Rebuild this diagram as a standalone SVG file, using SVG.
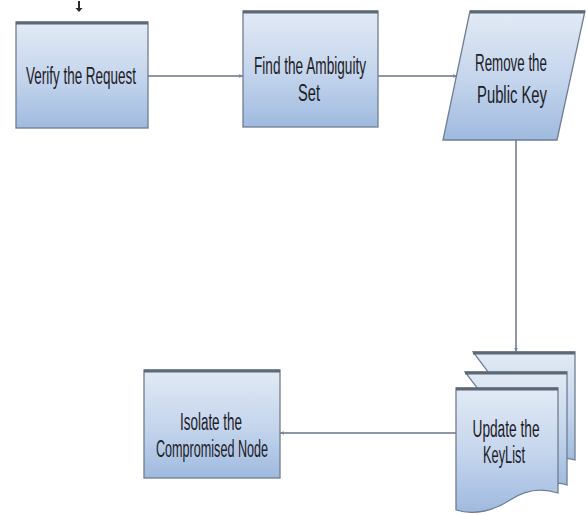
<svg xmlns="http://www.w3.org/2000/svg" width="586" height="515" viewBox="0 0 586 515">
  <defs>
    <linearGradient id="fillBlue" x1="0" y1="0" x2="0" y2="1">
      <stop offset="0" stop-color="#e2eaf5"/>
      <stop offset="0.55" stop-color="#c3d4ec"/>
      <stop offset="1" stop-color="#9fbadf"/>
    </linearGradient>
    <marker id="arrow" viewBox="0 0 8 8" refX="7" refY="4" markerWidth="5" markerHeight="5" orient="auto" markerUnits="userSpaceOnUse">
      <path d="M0,1 L8,4 L0,7 Z" fill="#7d8796"/>
    </marker>
  </defs>
  <style>
    .shape { fill: url(#fillBlue); stroke: #6f7e90; stroke-width: 1.3; }
    .topedge { stroke: #5d6877; stroke-width: 3; fill: none; }
    .conn { stroke: #8d97a5; stroke-width: 2; fill: none; marker-end: url(#arrow); }
    .label { font-family: "Liberation Sans", Arial, sans-serif; font-size: 23px; fill: #1c2026; text-anchor: middle; }
  </style>
  <rect width="586" height="515" fill="#ffffff"/>

  <g id="connectors">
    <path d="M79,1 V8" stroke="#2a2a2a" stroke-width="2" fill="none"/>
    <path d="M75.5,8 H82.5 L79,12 Z" fill="#2a2a2a"/>
    <path class="conn" d="M148,76 H243"/>
    <path class="conn" d="M378,76 H457"/>
    <path class="conn" d="M516,140 V352"/>
    <path class="conn" d="M456,433 H280"/>
  </g>

  <g id="verify-request">
    <rect class="shape" x="16" y="22" width="132" height="106"/>
    <path class="topedge" d="M16,23 H148"/>
    <text class="label" x="81" y="84" textLength="110" lengthAdjust="spacingAndGlyphs">Verify the Request</text>
  </g>

  <g id="find-ambiguity-set">
    <rect class="shape" x="243" y="11" width="135" height="116"/>
    <path class="topedge" d="M243,12 H378"/>
    <text class="label" x="310" y="74" textLength="112" lengthAdjust="spacingAndGlyphs">Find the Ambiguity</text>
    <text class="label" x="309" y="101" textLength="22" lengthAdjust="spacingAndGlyphs">Set</text>
  </g>

  <g id="remove-public-key">
    <path class="shape" d="M470,11 H585 L557,140 H443 Z"/>
    <path class="topedge" d="M470,12 H585"/>
    <!-- condensed lettering via horizontal scale -->
    <text class="label" transform="translate(511,71) scale(0.58,1)">Remove the</text>
    <text class="label" transform="translate(512,103) scale(0.644,1)">Public Key</text>
  </g>

  <g id="update-keylist">
    <path class="shape" d="M473,352 H575 V460 C565,457 560,458 556,462 Z"/>
    <path class="topedge" d="M473,353 H575"/>
    <path class="shape" d="M465,372 H567 V485 C560,482 556,483 552,486 Z"/>
    <path class="topedge" d="M465,373 H567"/>
    <path class="shape" d="M456,388 H558 V493 C540,487 525,490 510,500 C495,510 475,516 456,510 Z"/>
    <path class="topedge" d="M456,389 H558"/>
    <text class="label" x="506" y="437" textLength="67" lengthAdjust="spacingAndGlyphs">Update the</text>
    <text class="label" x="504" y="463" textLength="42" lengthAdjust="spacingAndGlyphs">KeyList</text>
  </g>

  <g id="isolate-node">
    <rect class="shape" x="144" y="370" width="136" height="108"/>
    <path class="topedge" d="M144,371 H280"/>
    <text class="label" x="211" y="430" textLength="62" lengthAdjust="spacingAndGlyphs">Isolate the</text>
    <text class="label" x="212" y="457" textLength="112" lengthAdjust="spacingAndGlyphs">Compromised Node</text>
  </g>
</svg>
